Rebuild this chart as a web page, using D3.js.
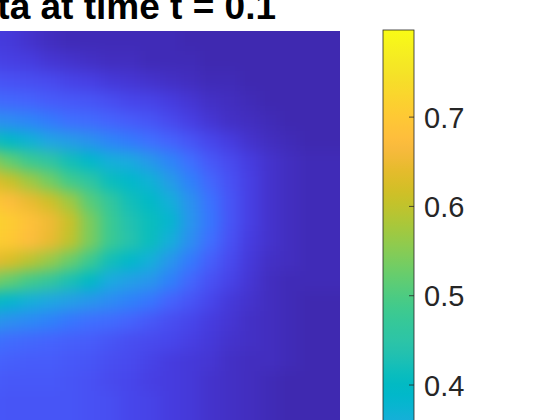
<!DOCTYPE html>
<html lang="en">
<head>
<meta charset="utf-8">
<title>Data at time t = 0.1</title>
<script src="https://d3js.org/d3.v7.min.js"></script>
<style>
  body { margin: 0; background: #fff; }
  svg { display: block; font-family: "Liberation Sans", Arial, Helvetica, sans-serif; }
</style>
</head>
<body>
<div id="chart"></div>
<script>
// MATLAB parula, 64 steps
var parula = [
  [0.2422,0.1504,0.6603],[0.2504,0.1650,0.7076],[0.2578,0.1818,0.7511],[0.2647,0.1978,0.7952],
  [0.2706,0.2147,0.8364],[0.2751,0.2342,0.8710],[0.2783,0.2559,0.8991],[0.2803,0.2782,0.9221],
  [0.2813,0.3006,0.9414],[0.2810,0.3228,0.9579],[0.2795,0.3447,0.9717],[0.2760,0.3667,0.9829],
  [0.2699,0.3892,0.9906],[0.2602,0.4123,0.9952],[0.2440,0.4358,0.9988],[0.2206,0.4603,0.9973],
  [0.1963,0.4847,0.9892],[0.1834,0.5074,0.9798],[0.1786,0.5289,0.9682],[0.1764,0.5499,0.9520],
  [0.1687,0.5703,0.9359],[0.1540,0.5902,0.9218],[0.1460,0.6091,0.9079],[0.1380,0.6276,0.8973],
  [0.1248,0.6459,0.8883],[0.1113,0.6635,0.8763],[0.0952,0.6798,0.8598],[0.0689,0.6948,0.8394],
  [0.0297,0.7082,0.8163],[0.0036,0.7203,0.7917],[0.0067,0.7312,0.7660],[0.0433,0.7411,0.7394],
  [0.0964,0.7500,0.7120],[0.1408,0.7584,0.6842],[0.1717,0.7670,0.6554],[0.1938,0.7758,0.6251],
  [0.2161,0.7843,0.5923],[0.2470,0.7918,0.5567],[0.2906,0.7973,0.5188],[0.3406,0.8008,0.4789],
  [0.3909,0.8029,0.4354],[0.4456,0.8024,0.3909],[0.5044,0.7993,0.3480],[0.5616,0.7942,0.3045],
  [0.6174,0.7876,0.2612],[0.6720,0.7793,0.2227],[0.7242,0.7698,0.1910],[0.7738,0.7598,0.1646],
  [0.8203,0.7498,0.1535],[0.8634,0.7406,0.1596],[0.9035,0.7330,0.1774],[0.9393,0.7288,0.2100],
  [0.9728,0.7298,0.2394],[0.9956,0.7434,0.2371],[0.9970,0.7659,0.2199],[0.9952,0.7893,0.2028],
  [0.9892,0.8136,0.1885],[0.9786,0.8386,0.1766],[0.9676,0.8639,0.1643],[0.9610,0.8890,0.1537],
  [0.9597,0.9135,0.1423],[0.9628,0.9373,0.1265],[0.9691,0.9606,0.1064],[0.9769,0.9839,0.0805]
];

var titleText = "Data at time t = 0.1";
var cLimits = [0.04, 0.797];
// only these ticks fall inside the picture
var colorbarTicks = [0.4, 0.5, 0.6, 0.7];

// field values, one row per grid line (top to bottom), 18 columns (left to right)
var field = [
  [0.101,0.093,0.078,0.063,0.055,0.055,0.055,0.055,0.055,0.055,0.048,0.048,0.048,0.048,0.048,0.048,0.048,0.048],
  [0.116,0.108,0.101,0.085,0.078,0.070,0.063,0.063,0.055,0.055,0.055,0.048,0.048,0.048,0.048,0.048,0.048,0.048],
  [0.154,0.146,0.138,0.131,0.116,0.108,0.093,0.085,0.078,0.070,0.063,0.055,0.055,0.048,0.048,0.048,0.048,0.048],
  [0.199,0.191,0.184,0.169,0.161,0.154,0.138,0.123,0.116,0.101,0.085,0.070,0.063,0.055,0.048,0.048,0.048,0.048],
  [0.282,0.267,0.252,0.229,0.207,0.199,0.184,0.169,0.154,0.131,0.108,0.085,0.070,0.063,0.055,0.048,0.048,0.048],
  [0.419,0.396,0.366,0.328,0.305,0.282,0.252,0.229,0.207,0.184,0.154,0.123,0.101,0.078,0.063,0.055,0.048,0.048],
  [0.555,0.517,0.479,0.456,0.419,0.388,0.358,0.343,0.297,0.252,0.207,0.161,0.131,0.101,0.078,0.063,0.055,0.055],
  [0.638,0.608,0.570,0.532,0.487,0.456,0.411,0.388,0.366,0.305,0.244,0.191,0.146,0.108,0.078,0.063,0.055,0.055],
  [0.699,0.676,0.646,0.615,0.570,0.509,0.464,0.419,0.396,0.358,0.282,0.214,0.154,0.108,0.078,0.063,0.055,0.055],
  [0.721,0.706,0.683,0.653,0.608,0.540,0.479,0.434,0.411,0.381,0.290,0.222,0.154,0.108,0.078,0.063,0.055,0.055],
  [0.714,0.699,0.676,0.646,0.600,0.540,0.479,0.441,0.411,0.358,0.275,0.207,0.146,0.101,0.078,0.063,0.055,0.055],
  [0.646,0.623,0.593,0.562,0.524,0.479,0.419,0.388,0.358,0.290,0.229,0.176,0.131,0.093,0.070,0.063,0.055,0.055],
  [0.540,0.517,0.487,0.464,0.426,0.396,0.343,0.313,0.290,0.244,0.191,0.146,0.116,0.085,0.063,0.055,0.055,0.055],
  [0.403,0.381,0.358,0.335,0.313,0.290,0.267,0.244,0.222,0.184,0.154,0.123,0.093,0.078,0.063,0.055,0.048,0.048],
  [0.297,0.275,0.260,0.244,0.222,0.207,0.199,0.184,0.161,0.138,0.123,0.101,0.085,0.070,0.063,0.055,0.048,0.048],
  [0.214,0.199,0.191,0.184,0.176,0.169,0.154,0.138,0.131,0.123,0.108,0.093,0.078,0.070,0.063,0.055,0.048,0.048],
  [0.184,0.176,0.169,0.169,0.161,0.154,0.138,0.131,0.116,0.101,0.093,0.085,0.070,0.063,0.063,0.055,0.048,0.048],
  [0.169,0.161,0.161,0.161,0.154,0.146,0.131,0.123,0.108,0.101,0.093,0.078,0.070,0.063,0.055,0.048,0.048,0.048],
  [0.161,0.154,0.154,0.154,0.154,0.146,0.138,0.123,0.116,0.101,0.093,0.078,0.070,0.063,0.055,0.048,0.048,0.048],
  [0.161,0.154,0.154,0.154,0.154,0.146,0.138,0.123,0.116,0.101,0.093,0.078,0.070,0.063,0.055,0.048,0.048,0.048]
];

var width = 560, height = 420;
// plot area runs off the left and bottom of the picture
var plot = { left: -20, right: 340, top: 31, bottom: 431 };
var cbar = { left: 383, right: 414, top: 30, pxPerUnit: 893 };

var svg = d3.select("#chart").append("svg")
  .attr("width", width)
  .attr("height", height);

svg.append("rect").attr("width", width).attr("height", height).attr("fill", "#fff");

var color = d3.scaleSequential(d3.piecewise(d3.interpolateRgb,
    parula.map(function (c) { return d3.rgb(c[0] * 255, c[1] * 255, c[2] * 255); })))
  .domain(cLimits);

var nRows = field.length, nCols = field[0].length;
var x = d3.scaleBand().domain(d3.range(nCols)).range([plot.left, plot.right]);
var y = d3.scaleBand().domain(d3.range(nRows)).range([plot.top, plot.bottom]);

var defs = svg.append("defs");
defs.append("clipPath").attr("id", "plotclip")
  .append("rect")
  .attr("x", plot.left).attr("y", plot.top)
  .attr("width", plot.right - plot.left).attr("height", plot.bottom - plot.top);

// smooth the cells like shading interp
var blur = defs.append("filter").attr("id", "smooth")
  .attr("filterUnits", "userSpaceOnUse")
  .attr("x", -200).attr("y", -200).attr("width", 800).attr("height", 900)
  .attr("color-interpolation-filters", "sRGB");
blur.append("feGaussianBlur").attr("stdDeviation", 7);

var pad = 40;
var cells = [];
field.forEach(function (row, i) {
  row.forEach(function (v, j) { cells.push({ i: i, j: j, v: v }); });
});

svg.append("g").attr("clip-path", "url(#plotclip)")
  .append("g").attr("filter", "url(#smooth)")
  .selectAll("rect")
  .data(cells)
  .enter()
  .append("rect")
  .attr("x", function (d) { return x(d.j) - (d.j === 0 ? pad : 0); })
  .attr("y", function (d) { return y(d.i) - (d.i === 0 ? pad : 0); })
  .attr("width", function (d) {
    return x.bandwidth() + 0.5 + (d.j === 0 || d.j === nCols - 1 ? pad : 0);
  })
  .attr("height", function (d) {
    return y.bandwidth() + 0.5 + (d.i === 0 || d.i === nRows - 1 ? pad : 0);
  })
  .attr("fill", function (d) { return color(d.v); });

// colorbar
var cy = d3.scaleLinear()
  .domain(cLimits)
  .range([cbar.top + (cLimits[1] - cLimits[0]) * cbar.pxPerUnit, cbar.top]);

var grad = defs.append("linearGradient").attr("id", "cbgrad")
  .attr("x1", 0).attr("y1", 1).attr("x2", 0).attr("y2", 0);
d3.range(0, 1.0001, 1 / 63).forEach(function (t) {
  grad.append("stop")
    .attr("offset", t)
    .attr("stop-color", color(cLimits[0] + t * (cLimits[1] - cLimits[0])));
});

svg.append("rect")
  .attr("x", cbar.left).attr("y", cy(cLimits[1]))
  .attr("width", cbar.right - cbar.left)
  .attr("height", cy(cLimits[0]) - cy(cLimits[1]))
  .attr("fill", "url(#cbgrad)")
  .attr("stroke", "#262626")
  .attr("stroke-width", 0.8);

var cAxis = svg.append("g")
  .attr("transform", "translate(" + cbar.right + ",0)")
  .call(d3.axisRight(cy).tickValues(colorbarTicks).tickSize(0).tickPadding(10)
    .tickFormat(d3.format(".1f")));
cAxis.select(".domain").remove();
cAxis.selectAll("text")
  .attr("fill", "#262626")
  .attr("dy", "0.37em")
  .style("font-size", "29px")
  .style("font-family", "'Liberation Sans', Arial, Helvetica, sans-serif");
cAxis.selectAll(".tick").append("line")
  .attr("x1", -5).attr("x2", 0)
  .attr("stroke", "#262626").attr("stroke-width", 0.8);

// title, centred over the full axes, so it is cut at the left edge
svg.append("text")
  .attr("x", 276)
  .attr("y", 19)
  .attr("text-anchor", "end")
  .style("font-size", "37px")
  .style("font-weight", "bold")
  .attr("fill", "#000")
  .text(titleText);
</script>
</body>
</html>
